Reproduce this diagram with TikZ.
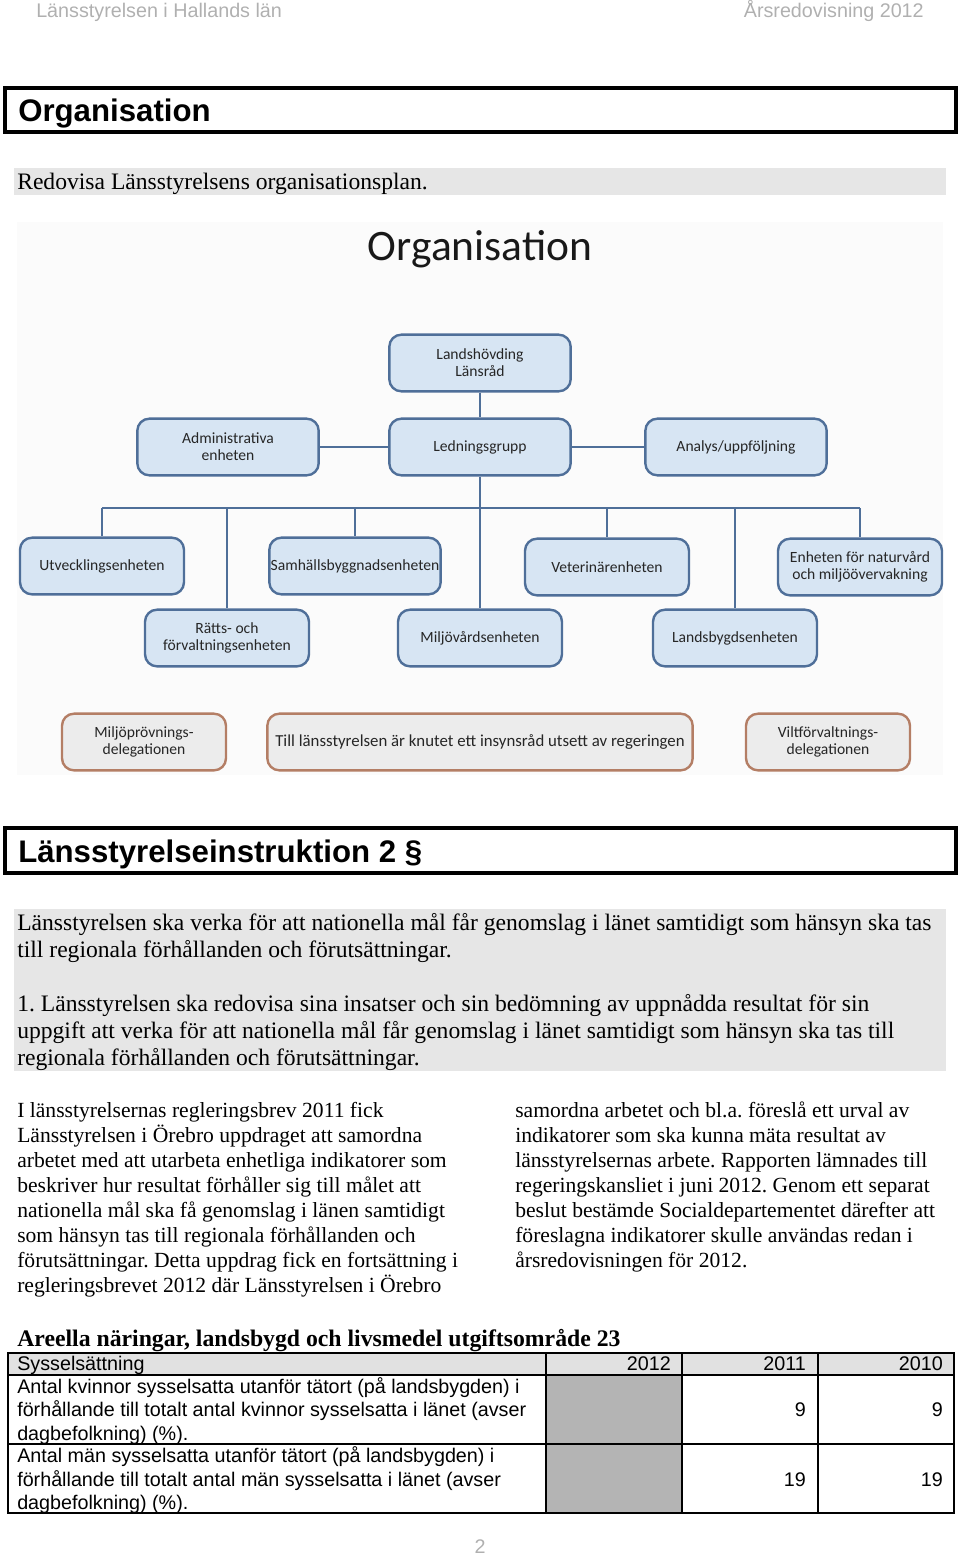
\documentclass[tikz,border=0pt]{standalone}
\usepackage{fontspec}
\setmainfont{Liberation Serif}
\setsansfont{Liberation Sans}
\newfontfamily\orgfont{Carlito}
\usetikzlibrary{positioning}
\frenchspacing

\definecolor{headgrey}{HTML}{B0B0B0}
\definecolor{bandgrey}{HTML}{E6E6E6}
\definecolor{chartbg}{HTML}{FBFBFB}
\definecolor{unitfill}{HTML}{D7E5F3}
\definecolor{unitline}{HTML}{4F6F99}
\definecolor{delfill}{HTML}{ECECEC}
\definecolor{delline}{HTML}{B47E65}
\definecolor{orgtext}{HTML}{262626}
\definecolor{tabhead}{HTML}{E1E1E1}
\definecolor{tabshade}{HTML}{B4B4B4}

\tikzset{
  pagehead/.style={text=headgrey, font=\sffamily\fontsize{14.8}{17}\selectfont, inner sep=0pt},
  sechead/.style={font=\sffamily\bfseries\fontsize{23.4}{28}\selectfont, inner sep=0pt, anchor=base west},
  secframe/.style={line width=3pt},
  bandtext/.style={font=\fontsize{17.7}{20}\selectfont, inner sep=0pt, anchor=base west},
  coltext/.style={font=\fontsize{16.2}{19}\selectfont, inner sep=0pt, anchor=base west},
  tabtext/.style={font=\sffamily\fontsize{14.8}{17}\selectfont, inner sep=0pt, anchor=base west},
  tabnum/.style={tabtext, anchor=base east},
  unit/.style={draw=unitline, fill=unitfill, line width=1.8pt, rounded corners=9pt,
    minimum width=123pt, minimum height=42.5pt, align=center, text=orgtext,
    font=\orgfont\fontsize{11.7}{12.75}\selectfont, inner sep=1pt},
  topunit/.style={unit, minimum width=136pt},
  delegation/.style={unit, draw=delline, fill=delfill},
  orgline/.style={draw=unitline, line width=1.9pt},
}

\begin{document}
\begin{tikzpicture}[x=0.75pt,y=-0.75pt]
\useasboundingbox (0,0) rectangle (960,1557);

% page header
\node[pagehead, anchor=base west] (hleft) at (36,17.5) {Länsstyrelsen i Hallands län};
\node[pagehead, anchor=base east] (hright) at (924,17.5) {Årsredovisning 2012};

% section: Organisation
\draw[secframe] (5,88) rectangle (956,132);
\node[sechead] (sec1) at (18,121.5) {Organisation};
\fill[bandgrey] (14,168) rectangle (946,195);
\node[bandtext] (ask1) at (17,189) {Redovisa Länsstyrelsens organisationsplan.};

% organisation chart
\fill[chartbg] (17,222) rectangle (943,775);
\node[font=\orgfont\fontsize{32.6}{36}\selectfont, text=black!90, inner sep=0pt, anchor=base] (orgtitle) at (480,260) {Organisation};

\begin{scope}[every node/.style={unit}]
  \node[topunit] (lh)  at (480,363) {Landshövding\\Länsråd};
  \node[topunit] (adm) at (228,447) {Administrativa\\enheten};
  \node[topunit] (lg)  at (480,447) {Ledningsgrupp};
  \node[topunit] (ana) at (736,447) {Analys/uppföljning};
  \node (utv) at (102,566) {Utvecklingsenheten};
  \node (shb) at (355,566) {Samhällsbyggnadsenheten};
  \node (vet) at (607,567) {Veterinärenheten};
  \node (nat) at (860,567) {Enheten för naturvård\\och miljöövervakning};
  \node (rf)  at (227,638) {Rätts- och\\förvaltningsenheten};
  \node (mv)  at (480,638) {Miljövårdsenheten};
  \node (lb)  at (735,638) {Landsbygdsenheten};
  \node[delegation] (mpd) at (144,742) {Miljöprövnings-\\delegationen};
  \node[delegation, minimum width=319pt, font=\orgfont\fontsize{12.6}{13}\selectfont] (ins) at (480,742) {Till länsstyrelsen är knutet ett insynsråd utsett av regeringen};
  \node[delegation] (vfd) at (828,742) {Viltförvaltnings-\\delegationen};
\end{scope}

\coordinate (bus) at (480,508);
\begin{scope}[every path/.style={orgline}]
  \path (lh.south) -- (lg.north);
  \path (adm.east) -- (lg.west);
  \path (lg.east) -- (ana.west);
  \path (lg.south) -- (mv.north);
  \path (utv.north |- bus) -- (nat.north |- bus);
  \path (utv.north |- bus) -- (utv.north);
  \path (rf.north |- bus) -- (rf.north);
  \path (shb.north |- bus) -- (shb.north);
  \path (vet.north |- bus) -- (vet.north);
  \path (lb.north |- bus) -- (lb.north);
  \path (nat.north |- bus) -- (nat.north);
\end{scope}

% section: Länsstyrelseinstruktion 2 §
\draw[secframe] (5,828) rectangle (956,873);
\node[sechead] (sec2) at (18,862) {Länsstyrelseinstruktion 2 §};
\fill[bandgrey] (14,909) rectangle (946,1071);
\node[bandtext] (b1) at (17,930) {Länsstyrelsen ska verka för att nationella mål får genomslag i länet samtidigt som hänsyn ska tas};
\node[bandtext] (b2) at (17,957) {till regionala förhållanden och förutsättningar.};
\node[bandtext] (b3) at (17,1011) {1. Länsstyrelsen ska redovisa sina insatser och sin bedömning av uppnådda resultat för sin};
\node[bandtext] (b4) at (17,1038) {uppgift att verka för att nationella mål får genomslag i länet samtidigt som hänsyn ska tas till};
\node[bandtext] (b5) at (17,1065) {regionala förhållanden och förutsättningar.};

% two columns
\node[coltext] (l1) at (17,1117) {I länsstyrelsernas regleringsbrev 2011 fick};
\node[coltext] (l2) at (17,1142) {Länsstyrelsen i Örebro uppdraget att samordna};
\node[coltext] (l3) at (17,1167) {arbetet med att utarbeta enhetliga indikatorer som};
\node[coltext] (l4) at (17,1192) {beskriver hur resultat förhåller sig till målet att};
\node[coltext] (l5) at (17,1217) {nationella mål ska få genomslag i länen samtidigt};
\node[coltext] (l6) at (17,1242) {som hänsyn tas till regionala förhållanden och};
\node[coltext] (l7) at (17,1267) {förutsättningar. Detta uppdrag fick en fortsättning i};
\node[coltext] (l8) at (17,1292) {regleringsbrevet 2012 där Länsstyrelsen i Örebro};
\node[coltext] (r1) at (515,1117) {samordna arbetet och bl.a. föreslå ett urval av};
\node[coltext] (r2) at (515,1142) {indikatorer som ska kunna mäta resultat av};
\node[coltext] (r3) at (515,1167) {länsstyrelsernas arbete. Rapporten lämnades till};
\node[coltext] (r4) at (515,1192) {regeringskansliet i juni 2012. Genom ett separat};
\node[coltext] (r5) at (515,1217) {beslut bestämde Socialdepartementet därefter att};
\node[coltext] (r6) at (515,1242) {föreslagna indikatorer skulle användas redan i};
\node[coltext] (r7) at (515,1267) {årsredovisningen för 2012.};

% table
\node[font=\bfseries\fontsize{17.8}{20}\selectfont, inner sep=0pt, anchor=base west] (tabtitle) at (17,1346) {Areella näringar, landsbygd och livsmedel utgiftsområde 23};
\fill[tabhead] (8,1353) rectangle (954,1375);
\fill[tabshade] (546,1375) rectangle (682,1513);
\draw[line width=1.1pt] (8,1353) rectangle (954,1513);
\draw[line width=1.1pt] (8,1375) -- (954,1375);
\draw[line width=1.1pt] (8,1444) -- (954,1444);
\draw[line width=1.1pt] (546,1353) -- (546,1513);
\draw[line width=1.1pt] (682,1353) -- (682,1513);
\draw[line width=1.1pt] (818,1353) -- (818,1513);
\node[tabtext] (th0) at (17,1370) {Sysselsättning};
\node[tabnum] (th1) at (671,1370) {2012};
\node[tabnum] (th2) at (806,1370) {2011};
\node[tabnum] (th3) at (943,1370) {2010};
\node[tabtext] (ta1) at (17,1393) {Antal kvinnor sysselsatta utanför tätort (på landsbygden) i};
\node[tabtext] (ta2) at (17,1416.5) {förhållande till totalt antal kvinnor sysselsatta i länet (avser};
\node[tabtext] (ta3) at (17,1440) {dagbefolkning) (\%).};
\node[tabnum] (ta4) at (806,1416.5) {9};
\node[tabnum] (ta5) at (943,1416.5) {9};
\node[tabtext] (tb1) at (17,1462.5) {Antal män sysselsatta utanför tätort (på landsbygden) i};
\node[tabtext] (tb2) at (17,1486) {förhållande till totalt antal män sysselsatta i länet (avser};
\node[tabtext] (tb3) at (17,1509) {dagbefolkning) (\%).};
\node[tabnum] (tb4) at (806,1486) {19};
\node[tabnum] (tb5) at (943,1486) {19};

% page number
\node[pagehead, anchor=base] (pnum) at (480,1553) {2};
\end{tikzpicture}
\end{document}
